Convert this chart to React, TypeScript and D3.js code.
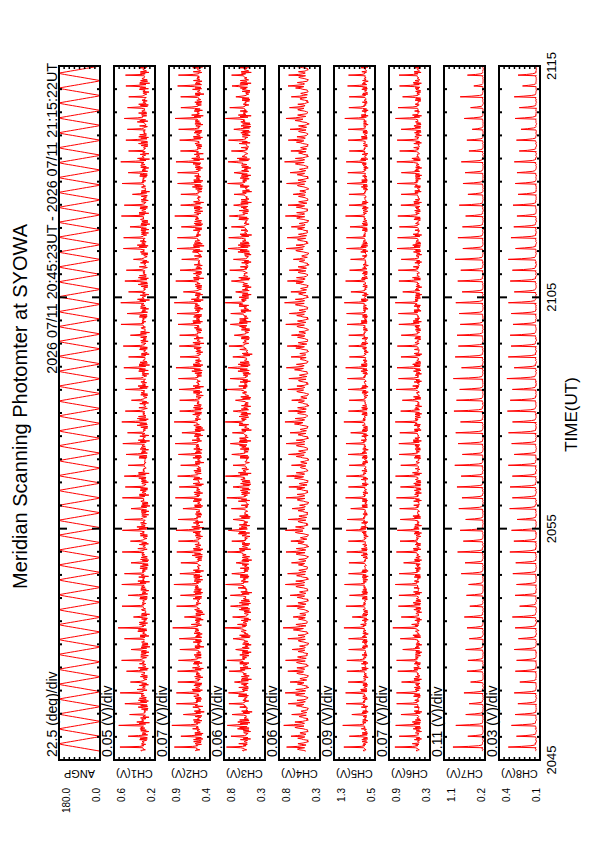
import React from "react";
import * as d3 from "d3";

// page is A4 portrait, the plot itself is drawn landscape and turned a quarter left
const pageW = 595;
const pageH = 842;

const channelNames = ["ANGP", "CH1(V)", "CH2(V)", "CH3(V)", "CH4(V)", "CH5(V)", "CH6(V)", "CH7(V)", "CH8(V)"];
const divLabels = ["22.5 (deg)/div", "0.05 (V)/div", "0.07 (V)/div", "0.06 (V)/div", "0.06 (V)/div", "0.09 (V)/div", "0.07 (V)/div", "0.11 (V)/div", "0.03 (V)/div"];
const topLabels = ["180.0", "0.6", "0.9", "0.8", "0.8", "1.3", "0.9", "1.1", "0.4"];
const bottomLabels = ["0.0", "0.2", "0.4", "0.3", "0.3", "0.5", "0.3", "0.2", "0.1"];
const yMax = [180, 0.6, 0.9, 0.8, 0.8, 1.3, 0.9, 1.1, 0.4];
const yMin = [0, 0.2, 0.4, 0.3, 0.3, 0.5, 0.3, 0.2, 0.1];
const timeLabels = ["2045", "2055", "2105", "2115"];
const timeLabelSec = [0, 600, 1200, 1800];

// seconds after 20:45:00
const dataStart = 23;
const dataEnd = 1822;
const scanCount = 64;
const samplesPerScan = 16;

// scanner angle over one back-and-forth sweep, as sampled
const angleCycle = [0, 17, 35, 52, 69, 86, 104, 121, 139, 156, 172, 180, 163, 146, 129, 111, 94, 77, 60, 42, 25, 8];

// base level of each photometer channel (V)
const baseLevel = [0.26, 0.48, 0.45, 0.42, 0.64, 0.43, 0.24, 0.125];

// shape of one scan, fraction of the way from base to peak
const scanShape = [
  [0.2, 0.35, 0.1, 0.3, 0.15, 0.25, 1, 0.4, 0.15, 0.3, 0.05, 0.35, 0.2, 0.1, 0.3, 0.15],
  [0.2, 0.35, 0.1, 0.3, 0.15, 0.3, 1, 0.45, 0.15, 0.3, 0.05, 0.35, 0.2, 0.1, 0.3, 0.15],
  [0.3, 0.5, 0.2, 0.45, 0.3, 0.55, 1, 0.5, 0.25, 0.45, 0.15, 0.5, 0.3, 0.2, 0.45, 0.25],
  [0.15, 0.3, 0.45, 0.6, 0.4, 0.25, 1, 0.6, 0.35, 0.2, 0.35, 0.55, 0.3, 0.15, 0.1, 0.12],
  [0.1, 0.25, 0.05, 0.2, 0.1, 0.2, 1, 0.35, 0.1, 0.25, 0.05, 0.25, 0.1, 0.05, 0.2, 0.1],
  [0.1, 0.25, 0.05, 0.2, 0.1, 0.25, 1, 0.4, 0.1, 0.25, 0.05, 0.3, 0.15, 0.05, 0.2, 0.1],
  [0.01, 0.03, 0, 0.02, 0.04, 0.01, 1, 0.5, 0.15, 0.05, 0.02, 0.03, 0.01, 0.02, 0, 0.01],
  [0.02, 0.04, 0.01, 0.03, 0.05, 0.02, 1, 0.55, 0.2, 0.07, 0.03, 0.05, 0.02, 0.03, 0.01, 0.02],
];

// peak of each scan
const ch1Peak = [0.52, 0.47, 0.55, 0.44, 0.50, 0.53, 0.46, 0.49, 0.51, 0.45, 0.48, 0.54, 0.43, 0.50, 0.47, 0.52, 0.49, 0.44, 0.51, 0.46, 0.53, 0.48, 0.45, 0.50, 0.47, 0.52, 0.44, 0.49, 0.51, 0.46, 0.53, 0.48, 0.45, 0.50, 0.47, 0.52, 0.44, 0.49, 0.46, 0.51, 0.48, 0.53, 0.45, 0.50, 0.47, 0.43, 0.52, 0.49, 0.46, 0.51, 0.48, 0.44, 0.50, 0.47, 0.53, 0.45, 0.49, 0.46, 0.52, 0.48, 0.44, 0.50, 0.47, 0.51];
const ch2Peak = [0.82, 0.76, 0.84, 0.74, 0.80, 0.83, 0.77, 0.79, 0.81, 0.75, 0.78, 0.84, 0.73, 0.80, 0.77, 0.82, 0.79, 0.74, 0.81, 0.76, 0.83, 0.78, 0.75, 0.80, 0.77, 0.82, 0.74, 0.79, 0.81, 0.76, 0.83, 0.78, 0.75, 0.80, 0.77, 0.82, 0.74, 0.79, 0.76, 0.81, 0.78, 0.83, 0.75, 0.80, 0.77, 0.73, 0.82, 0.79, 0.76, 0.81, 0.78, 0.74, 0.80, 0.77, 0.83, 0.75, 0.79, 0.76, 0.82, 0.78, 0.74, 0.80, 0.77, 0.81];
const ch3Peak = [0.74, 0.69, 0.77, 0.68, 0.72, 0.76, 0.70, 0.73, 0.75, 0.68, 0.71, 0.77, 0.67, 0.73, 0.70, 0.76, 0.72, 0.68, 0.75, 0.69, 0.77, 0.71, 0.68, 0.74, 0.70, 0.76, 0.67, 0.72, 0.75, 0.69, 0.77, 0.71, 0.68, 0.74, 0.70, 0.76, 0.67, 0.72, 0.69, 0.75, 0.71, 0.77, 0.68, 0.73, 0.70, 0.66, 0.76, 0.72, 0.69, 0.75, 0.71, 0.67, 0.74, 0.70, 0.77, 0.68, 0.72, 0.69, 0.76, 0.71, 0.67, 0.73, 0.70, 0.75];
const ch4Peak = [0.70, 0.66, 0.74, 0.64, 0.69, 0.72, 0.67, 0.70, 0.71, 0.65, 0.68, 0.74, 0.64, 0.70, 0.67, 0.72, 0.69, 0.65, 0.71, 0.66, 0.73, 0.68, 0.65, 0.70, 0.67, 0.72, 0.64, 0.69, 0.71, 0.66, 0.73, 0.68, 0.65, 0.70, 0.67, 0.72, 0.64, 0.69, 0.66, 0.71, 0.68, 0.73, 0.65, 0.70, 0.67, 0.63, 0.72, 0.69, 0.66, 0.71, 0.68, 0.64, 0.70, 0.67, 0.73, 0.65, 0.69, 0.66, 0.72, 0.68, 0.64, 0.70, 0.67, 0.71];
const ch5Peak = [1.08, 1.01, 1.11, 0.98, 1.05, 1.09, 1.00, 1.04, 1.07, 0.99, 1.03, 1.10, 0.97, 1.05, 1.01, 1.08, 1.04, 0.98, 1.06, 1.00, 1.09, 1.03, 0.99, 1.05, 1.01, 1.08, 0.98, 1.04, 1.06, 1.00, 1.09, 1.03, 0.99, 1.05, 1.01, 1.08, 0.98, 1.04, 1.00, 1.06, 1.03, 1.09, 0.99, 1.05, 1.01, 0.97, 1.08, 1.04, 1.00, 1.06, 1.03, 0.98, 1.05, 1.01, 1.09, 0.99, 1.04, 1.00, 1.08, 1.03, 0.98, 1.05, 1.01, 1.06];
const ch6Peak = [0.79, 0.73, 0.81, 0.71, 0.77, 0.80, 0.74, 0.76, 0.78, 0.72, 0.75, 0.82, 0.70, 0.77, 0.74, 0.79, 0.76, 0.71, 0.78, 0.73, 0.80, 0.75, 0.72, 0.77, 0.74, 0.79, 0.71, 0.76, 0.78, 0.73, 0.80, 0.75, 0.72, 0.77, 0.74, 0.79, 0.71, 0.76, 0.73, 0.78, 0.75, 0.80, 0.72, 0.77, 0.74, 0.70, 0.79, 0.76, 0.73, 0.78, 0.75, 0.71, 0.77, 0.74, 0.80, 0.72, 0.76, 0.73, 0.79, 0.75, 0.71, 0.77, 0.74, 0.78];
const ch7Peak = [0.90, 0.58, 0.84, 0.62, 0.55, 0.66, 0.52, 0.60, 0.57, 0.63, 0.54, 0.59, 0.66, 0.53, 0.61, 0.56, 0.72, 0.64, 0.80, 0.68, 0.75, 0.62, 0.78, 0.70, 0.81, 0.73, 0.86, 0.70, 0.79, 0.84, 0.74, 0.88, 0.83, 0.76, 0.89, 0.72, 0.85, 0.78, 0.82, 0.74, 0.77, 0.84, 0.70, 0.80, 0.73, 0.86, 0.69, 0.79, 0.70, 0.62, 0.76, 0.58, 0.68, 0.64, 0.72, 0.55, 0.60, 0.48, 0.66, 0.52, 0.74, 0.45, 0.58, 0.50];
const ch8Peak = [0.33, 0.27, 0.31, 0.28, 0.26, 0.29, 0.25, 0.28, 0.27, 0.29, 0.26, 0.28, 0.30, 0.25, 0.28, 0.27, 0.30, 0.28, 0.32, 0.29, 0.31, 0.27, 0.32, 0.30, 0.32, 0.30, 0.33, 0.29, 0.31, 0.33, 0.30, 0.34, 0.32, 0.30, 0.34, 0.29, 0.33, 0.31, 0.32, 0.30, 0.31, 0.33, 0.29, 0.32, 0.30, 0.33, 0.28, 0.31, 0.29, 0.27, 0.30, 0.26, 0.28, 0.27, 0.29, 0.25, 0.27, 0.24, 0.28, 0.25, 0.29, 0.23, 0.26, 0.24];
const peaks = [ch1Peak, ch2Peak, ch3Peak, ch4Peak, ch5Peak, ch6Peak, ch7Peak, ch8Peak];

// sample-to-sample wobble, fraction of the panel's full scale
const wobble = [
  [0.05, -0.03, 0.02, -0.05, 0.04, -0.015, 0.055, -0.04, 0.025, -0.02, 0.045, -0.05, 0.01],
  [0.045, -0.04, 0.02, -0.03, 0.05, -0.01, 0.03, -0.045, 0.04, -0.02, 0.015, -0.035, 0.03, -0.01, 0.035, -0.05, 0.012],
  [0.05, -0.04, 0.03, -0.055, 0.04, -0.02, 0.06, -0.045, 0.015, -0.03, 0.045],
  [0.02, -0.015, 0.01, -0.025, 0.02, -0.005, 0.015, -0.02, 0.01, -0.012, 0.025, -0.01, 0.005],
  [0.03, -0.02, 0.015, -0.035, 0.025, -0.01, 0.035, -0.03, 0.018, -0.015, 0.022, -0.032, 0.008, -0.018, 0.03, -0.025, 0.012],
  [0.035, -0.025, 0.015, -0.04, 0.03, -0.012, 0.04, -0.035, 0.02, -0.015, 0.025],
  [0.006, -0.004, 0.003, -0.006, 0.005, -0.002, 0.004, -0.005, 0.002, -0.003, 0.006, -0.004, 0.001],
  [0.008, -0.006, 0.004, -0.008, 0.006, -0.003, 0.007, -0.005, 0.002, -0.004, 0.008],
];

// landscape layout
const plotLeft = 82;
const plotRight = 776;
const panelTop0 = 59;
const panelStep = 55;
const panelH = 41;

const x = d3.scaleLinear().domain([0, 1800]).range([plotLeft, plotRight]);

const sampleCount = scanCount * samplesPerScan + 1;
const sampleTimes = d3.range(sampleCount).map((i) => dataStart + ((dataEnd - dataStart) * i) / (sampleCount - 1));

function channelValues(p: number): number[] {
  if (p === 0) return sampleTimes.map((_, i) => angleCycle[i % angleCycle.length]);
  const c = p - 1;
  const span = yMax[p] - yMin[p];
  return sampleTimes.map((_, i) => {
    const scan = Math.min(scanCount - 1, Math.floor(i / samplesPerScan));
    const k = i % samplesPerScan;
    const w = wobble[c][i % wobble[c].length];
    return baseLevel[c] + (peaks[c][scan] - baseLevel[c]) * scanShape[c][k] + w * span;
  });
}

const font = "'Liberation Sans', Arial, Helvetica, sans-serif";

const Panel = ({ p }: { p: number }) => {
  const top = panelTop0 + panelStep * p;
  const bottom = top + panelH;
  const y = d3.scaleLinear().domain([yMin[p], yMax[p]]).range([bottom, top]);
  const vals = channelValues(p);
  const line = d3
    .line<number>()
    .x((_, i) => x(sampleTimes[i]))
    .y((v) => y(v));
  const minuteTicks = d3.range(1, 30).map((m) => m * 60);
  const valueTicks = d3.range(1, 8).map((k) => yMin[p] + ((yMax[p] - yMin[p]) * k) / 8);
  return (
    <g>
      <clipPath id={`clip${p}`}>
        <rect x={plotLeft} y={top} width={plotRight - plotLeft} height={panelH} />
      </clipPath>
      <path d={line(vals) || ""} fill="none" stroke="#ff0000" strokeWidth={1} clipPath={`url(#clip${p})`} />
      {minuteTicks.map((t) => {
        const len = t % 600 === 0 ? 8 : 3;
        return (
          <g key={t}>
            <line x1={x(t)} x2={x(t)} y1={top} y2={top + len} stroke="#000" strokeWidth={2} />
            <line x1={x(t)} x2={x(t)} y1={bottom} y2={bottom - len} stroke="#000" strokeWidth={2} />
          </g>
        );
      })}
      {valueTicks.map((v, k) => (
        <g key={k}>
          <line x1={plotLeft} x2={plotLeft + 3} y1={y(v)} y2={y(v)} stroke="#000" strokeWidth={1.5} />
          <line x1={plotRight} x2={plotRight - 3} y1={y(v)} y2={y(v)} stroke="#000" strokeWidth={1.5} />
        </g>
      ))}
      <rect x={plotLeft} y={top} width={plotRight - plotLeft} height={panelH} fill="none" stroke="#000" strokeWidth={2} />
      <text x={plotLeft + 3} y={top - 2} fontSize={14}>{divLabels[p]}</text>
      <text x={54} y={top + 10.5} fontSize={10} textAnchor="end">{topLabels[p]}</text>
      <text x={54} y={bottom} fontSize={10} textAnchor="end">{bottomLabels[p]}</text>
      <text transform={`translate(72,${top + panelH / 2}) rotate(-90)`} fontSize={11} textAnchor="middle">
        {channelNames[p]}
      </text>
    </g>
  );
};

export default function App() {
  return (
    <svg
      width={pageW}
      height={pageH}
      viewBox={`0 0 ${pageW} ${pageH}`}
      style={{ position: "absolute", left: 0, top: 0, background: "#fff" }}
      fontFamily={font}
    >
      <rect width={pageW} height={pageH} fill="#fff" />
      <g transform={`translate(0,${pageH}) rotate(-90)`}>
        <text x={435.5} y={27} fontSize={20} textAnchor="middle">
          Meridian Scanning Photomter at SYOWA
        </text>
        <text x={779} y={57} fontSize={14.3} textAnchor="end">
          2026 07/11 20:45:23UT - 2026 07/11 21:15:22UT
        </text>
        {channelNames.map((_, p) => (
          <Panel key={p} p={p} />
        ))}
        {timeLabels.map((t, i) => (
          <text key={t} x={x(timeLabelSec[i])} y={555.5} fontSize={13} textAnchor="middle">
            {t}
          </text>
        ))}
        <text x={427.5} y={577} fontSize={17} textAnchor="middle">
          TIME(UT)
        </text>
      </g>
    </svg>
  );
}
